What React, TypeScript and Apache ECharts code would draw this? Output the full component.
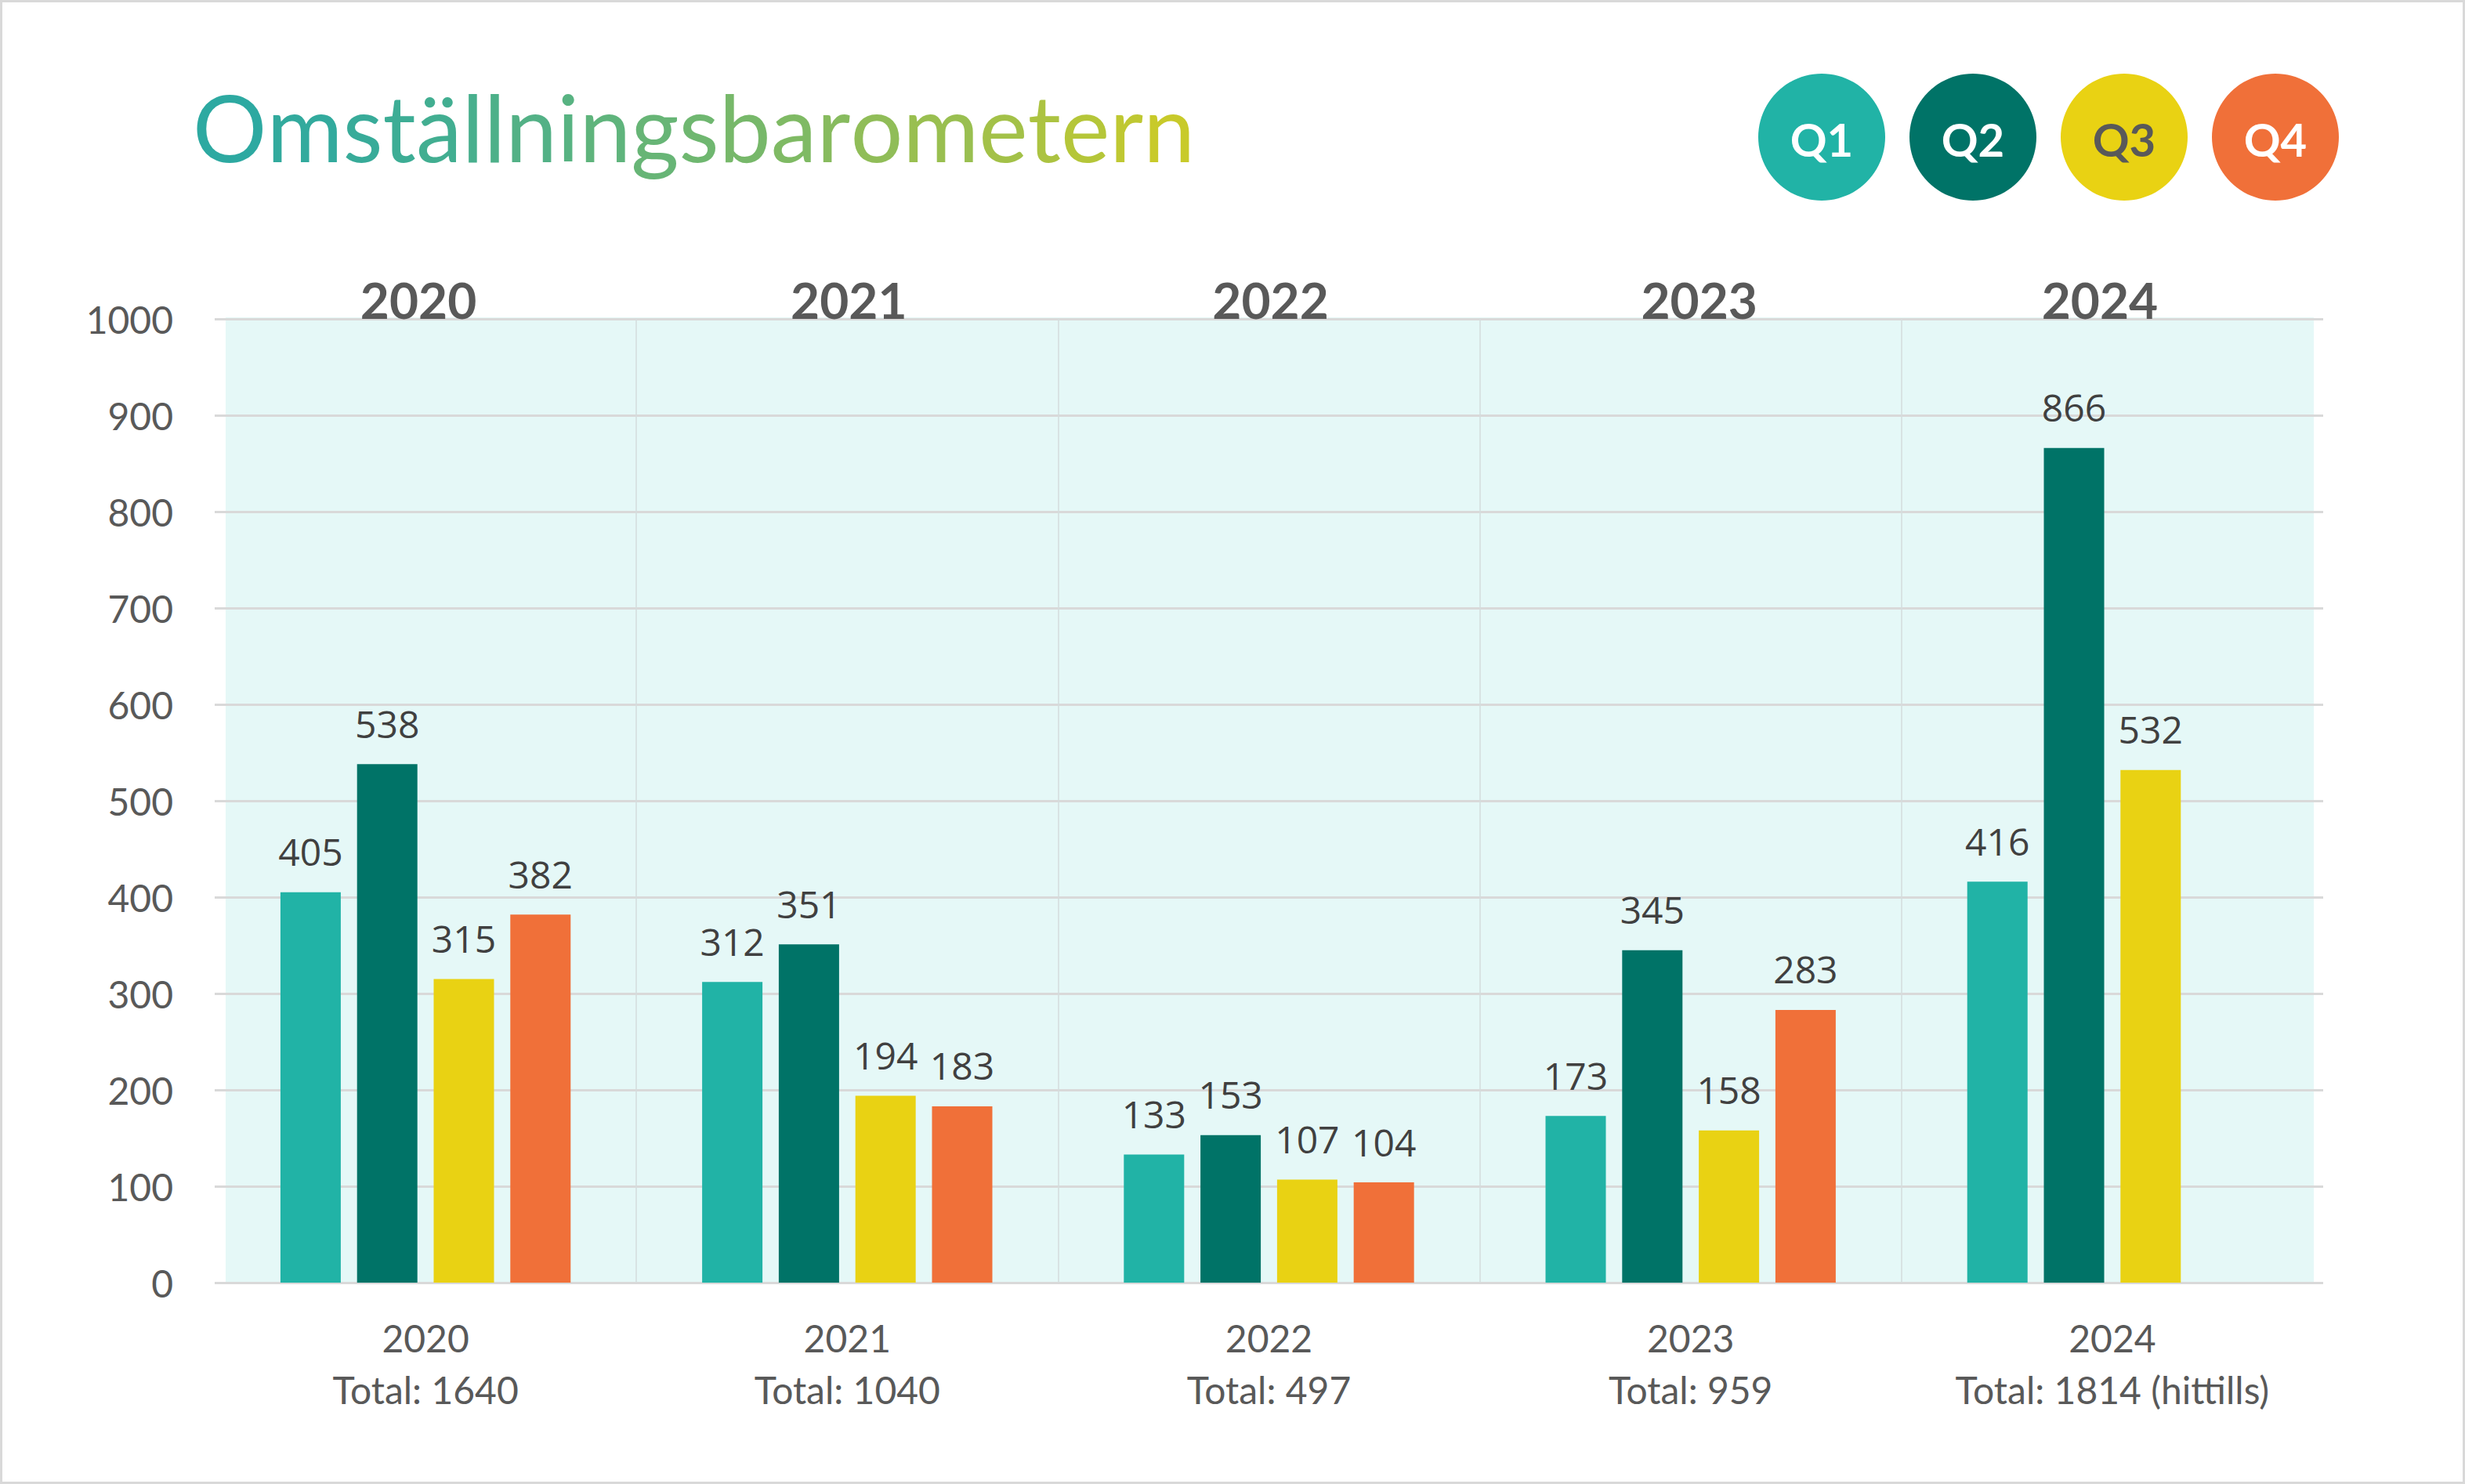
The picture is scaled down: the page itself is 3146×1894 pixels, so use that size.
import React, { useEffect, useRef } from "react";
import * as echarts from "echarts";

const years = ["2020", "2021", "2022", "2023", "2024"];
const totals = [1640, 1040, 497, 959, 1814];
const totalNotes = ["", "", "", "", " (hittills)"];
const seriesNames = ["Q1", "Q2", "Q3", "Q4"];
const q1 = [405, 312, 133, 173, 416];
const q2 = [538, 351, 153, 345, 866];
const q3 = [315, 194, 107, 158, 532];
const q4: (number | null)[] = [382, 183, 104, 283, null];
const seriesValues = [q1, q2, q3, q4];
const colors = ["#21B3A6", "#007367", "#E9D213", "#F07039"];
const legendTextColors = ["#FFFFFF", "#FFFFFF", "#595959", "#FFFFFF"];
const titleText = "Omställningsbarometern";
const titleGradient: [number, number[]][] = [
  [0, [0x2d, 0xa9, 0xa1]],
  [0.4, [0x5a, 0xb3, 0x80]],
  [0.7, [0x8d, 0xbc, 0x5a]],
  [1, [0xc8, 0xca, 0x2a]],
];

function gradientColor(t: number): string {
  for (let k = 0; k < titleGradient.length - 1; k++) {
    const [t0, c0] = titleGradient[k];
    const [t1, c1] = titleGradient[k + 1];
    if (t <= t1) {
      const f = (t - t0) / (t1 - t0);
      const c = c0.map((v, j) => Math.round(v + (c1[j] - v) * f));
      return `rgb(${c[0]},${c[1]},${c[2]})`;
    }
  }
  const c = titleGradient[titleGradient.length - 1][1];
  return `rgb(${c[0]},${c[1]},${c[2]})`;
}

export default function App() {
  const ref = useRef<HTMLDivElement>(null);
  useEffect(() => {
    document.body.style.margin = "0";
    const chart = echarts.init(ref.current!, null, { renderer: "svg" });
    const chars = Array.from(titleText);
    const rich: Record<string, any> = {};
    chars.forEach((c, i) => {
      rich["c" + i] = {
        fill: gradientColor(i / (chars.length - 1)),
        fontSize: 118,
        fontFamily: "Lato",
      };
    });
    const richText = chars.map((c, i) => `{c${i}|${c}}`).join("");

    // small horizontal nudges of the header year labels (layout only)
    const headerShift = [-9, 2, 2, 11, -16];
    const headerRich: Record<string, any> = {};
    headerShift.forEach((s, i) => {
      headerRich["y" + i] = {
        fontSize: 64,
        fontWeight: "bold",
        fontFamily: "Lato",
        color: "#595959",
        padding: s < 0 ? [0, -2 * s, 0, 0] : [0, 0, 0, 2 * s],
      };
    });

    const legendGraphics = seriesNames.map((name, i) => ({
      type: "group",
      x: 2325 + i * 193,
      y: 175,
      children: [
        { type: "circle", shape: { cx: 0, cy: 0, r: 81 }, style: { fill: colors[i] } },
        {
          type: "text",
          x: 0,
          y: 2,
          style: {
            text: name,
            fill: legendTextColors[i],
            font: "bold 58px Lato",
            textAlign: "center",
            textVerticalAlign: "middle",
          },
        },
      ],
    }));
    chart.setOption({
      animation: false,
      backgroundColor: "#FFFFFF",
      grid: { left: 274, right: 181, top: 407, bottom: 257, containLabel: false },
      graphic: [
        {
          type: "rect",
          z: -100,
          shape: { x: 1.5, y: 1.5, width: 3143, height: 1891 },
          style: { fill: "#FFFFFF", stroke: "#D9D9D9", lineWidth: 3 },
        },
        {
          type: "rect",
          z: -50,
          shape: { x: 288, y: 405, width: 2665, height: 1232 },
          style: { fill: "#E5F8F7" },
        },
        {
          type: "text",
          x: 246,
          y: 161,
          style: {
            text: richText,
            rich,
            fill: gradientColor(0),
            font: "118px Lato",
            textAlign: "left",
            textVerticalAlign: "middle",
          },
        },
        ...legendGraphics,
      ],
      xAxis: [
        {
          type: "category",
          data: years,
          position: "bottom",
          axisLine: { show: false },
          axisTick: { show: false },
          splitLine: {
            show: true,
            showMinLine: false,
            showMaxLine: false,
            lineStyle: { color: "#D3DCDC", width: 1.5 },
          },
          axisLabel: {
            margin: 37,
            verticalAlign: "top",
            lineHeight: 66,
            fontSize: 48,
            fontFamily: "Lato",
            color: "#595959",
            formatter: (v: string, i: number) => `${v}\nTotal: ${totals[i]}${totalNotes[i]}`,
          },
        },
        {
          type: "category",
          data: years,
          position: "top",
          axisLine: { show: false },
          axisTick: { show: false },
          splitLine: { show: false },
          axisLabel: {
            margin: 25,
            verticalAlign: "middle",
            fontSize: 64,
            fontWeight: "bold",
            fontFamily: "Lato",
            color: "#595959",
            formatter: (v: string, i: number) => `{y${i}|${v}}`,
            rich: headerRich,
          },
        },
      ],
      yAxis: {
        type: "value",
        min: 0,
        max: 1000,
        interval: 100,
        axisLine: { show: false },
        axisTick: { show: false },
        splitLine: { show: true, lineStyle: { color: "#D9D9D9", width: 3 } },
        axisLabel: {
          margin: 53,
          fontSize: 48,
          fontFamily: "Lato",
          color: "#595959",
          formatter: (v: number) => String(v),
        },
      },
      series: seriesNames.map((name, i) => ({
        name,
        type: "bar",
        xAxisIndex: 0,
        data: seriesValues[i],
        barWidth: 77,
        barGap: "27%",
        itemStyle: { color: colors[i] },
        label: {
          show: true,
          position: "top",
          distance: 28,
          fontSize: 48,
          fontFamily: "Open Sans",
          color: "#404040",
        },
      })),
    });
    return () => chart.dispose();
  }, []);
  return (
    <div
      ref={ref}
      style={{ position: "absolute", left: 0, top: 0, width: 3146, height: 1894 }}
    />
  );
}
